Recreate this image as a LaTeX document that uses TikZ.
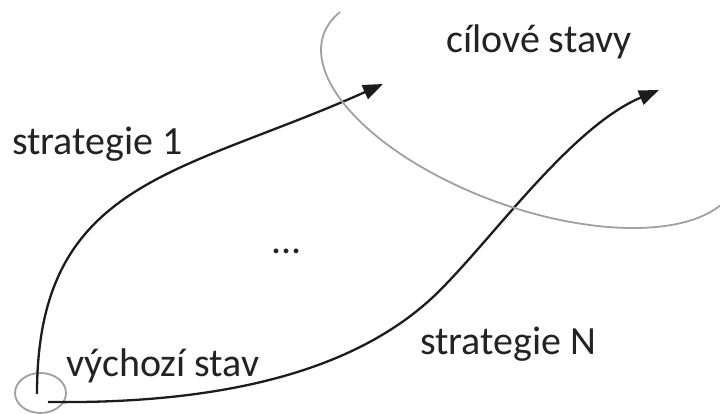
\documentclass[tikz,border=0pt]{standalone}
\usepackage{fontspec}
\setmainfont{Carlito}
\usepackage{tikz}
\usetikzlibrary{arrows.meta,positioning,calc,shapes.geometric}
\definecolor{ink}{RGB}{35,35,35}
\definecolor{wire}{RGB}{28,28,28}
\definecolor{rim}{RGB}{160,160,160}

\begin{document}
\begin{tikzpicture}[x=1pt,y=1pt,
 lbl/.style={anchor=base west,inner sep=0pt,text=ink,font=\fontsize{40}{48}\selectfont},
 strat/.style={draw=wire,line width=2.3pt,-{Triangle[length=20pt,width=15pt]}}]
 \clip (0,0) rectangle (720,414);
 \node[draw=rim,line width=1.8pt,ellipse,minimum width=51pt,minimum height=40pt,inner sep=0pt] (start) at (40.5,21) {};
 \node[lbl] (goal) at (446,361) {cílové stavy};
 \node[lbl] (s1) at (12,259) {strategie 1};
 \node[lbl] (sN) at (420,59) {strategie N};
 \node[lbl] (init) at (66,37) {výchozí stav};
 \node[lbl,anchor=base] (dots) at (286.5,160) {...};
 \coordinate (a1) at ($(start)+(-3.5,-1)$);
 \coordinate (a2) at ($(start)+(7.5,-9)$);
 \coordinate (m) at (448,132);
 \coordinate (t1) at (383,330);
 \coordinate (tN) at (659,324);
 \draw[strat] (a1) .. controls (37,234) and (180,239) .. (t1);
 \draw[strat] (a2) .. controls (280,9) and (390,69) .. (m) .. controls (500,186) and (575,289) .. (tN);
 \begin{scope}[shift={(530.3,305.4)},rotate=-19.85]
  \draw[rim,line width=1.8pt] (164.6:219.6 and 99.2) arc[start angle=164.6,end angle=344.6,x radius=219.6,y radius=99.2];
 \end{scope}
\end{tikzpicture}
\end{document}
